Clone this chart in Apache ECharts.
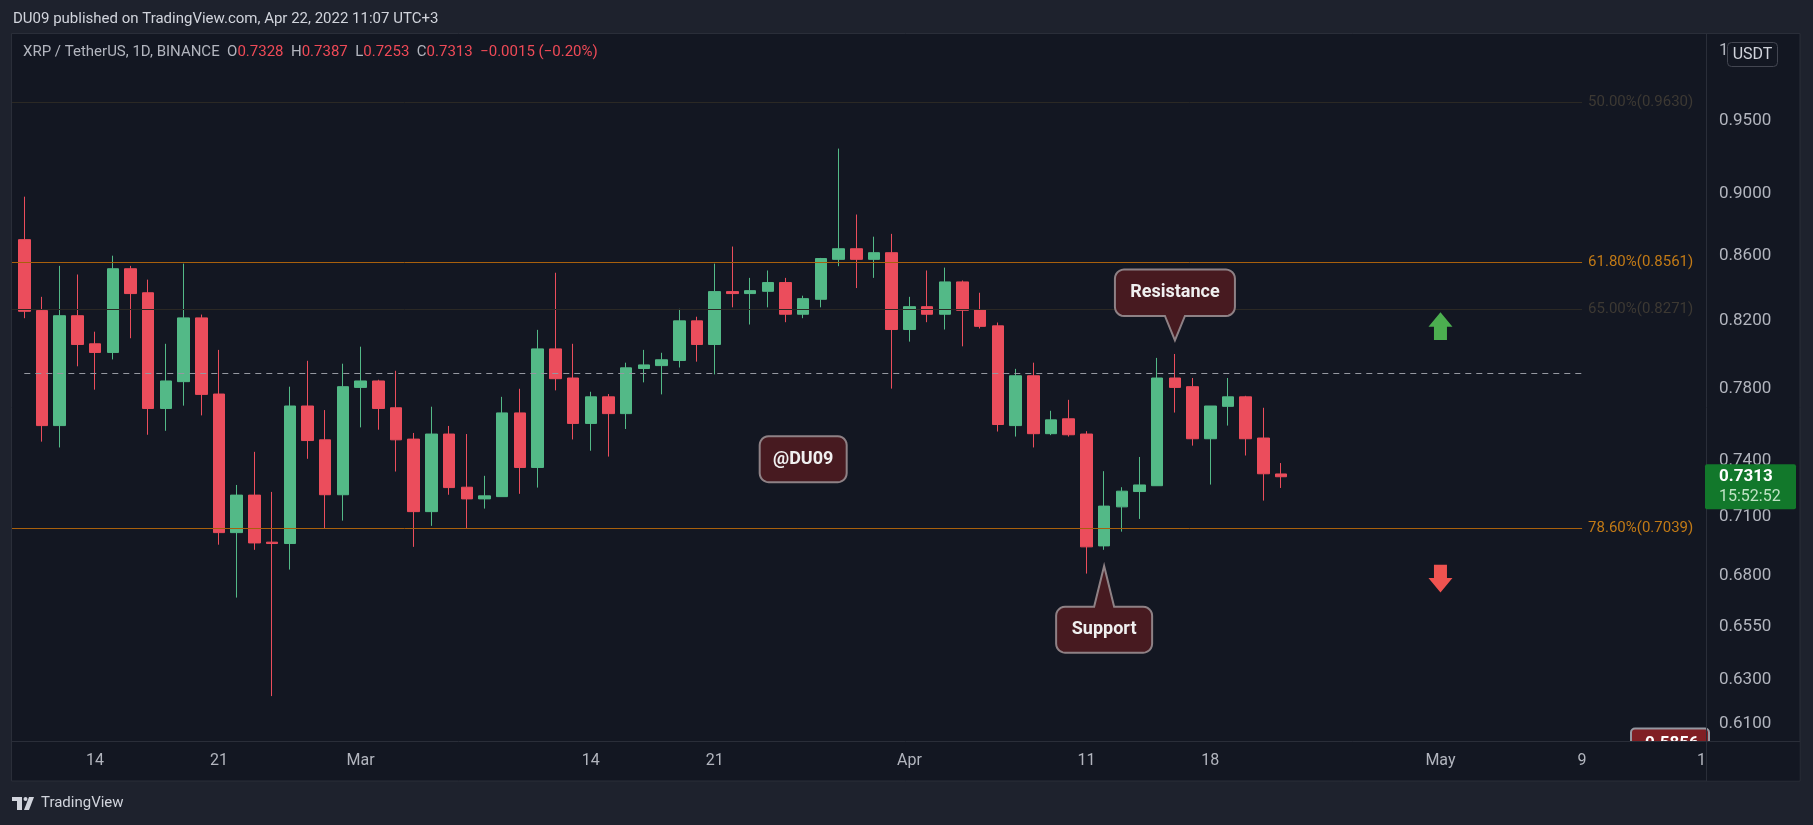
<!DOCTYPE html>
<html>
<head>
<meta charset="utf-8">
<title>XRP / TetherUS, 1D, BINANCE</title>
<script src="https://cdn.jsdelivr.net/npm/echarts@6.0.0/dist/echarts.min.js"></script>
<style>
  html, body { margin: 0; padding: 0; background: #1e222d; }
  #main { width: 1813px; height: 825px; }
</style>
</head>
<body>
<div id="main"></div>
<script>
// daily candles, 2022
const dates = [
  '02-10', '02-11', '02-12', '02-13', '02-14', '02-15', '02-16', '02-17', '02-18', '02-19',
  '02-20', '02-21', '02-22', '02-23', '02-24', '02-25', '02-26', '02-27', '02-28',
  '03-01', '03-02', '03-03', '03-04', '03-05', '03-06', '03-07', '03-08', '03-09', '03-10',
  '03-11', '03-12', '03-13', '03-14', '03-15', '03-16', '03-17', '03-18', '03-19', '03-20',
  '03-21', '03-22', '03-23', '03-24', '03-25', '03-26', '03-27', '03-28', '03-29', '03-30', '03-31',
  '04-01', '04-02', '04-03', '04-04', '04-05', '04-06', '04-07', '04-08', '04-09', '04-10',
  '04-11', '04-12', '04-13', '04-14', '04-15', '04-16', '04-17', '04-18', '04-19', '04-20', '04-21', '04-22'
]
const opens = [
  0.8704, 0.8262, 0.7593, 0.8231, 0.8063, 0.8012, 0.8520, 0.8371, 0.7689, 0.7842,
  0.8218, 0.7771, 0.7019, 0.7215, 0.6970, 0.6963, 0.7703, 0.7514, 0.7217,
  0.7809, 0.7846, 0.7693, 0.7518, 0.7128, 0.7546, 0.7257, 0.7195, 0.7207, 0.7664,
  0.7363, 0.8033, 0.7863, 0.7605, 0.7755, 0.7660, 0.7918, 0.7935, 0.7965, 0.8200,
  0.8059, 0.8378, 0.8366, 0.8380, 0.8434, 0.8240, 0.8331, 0.8579, 0.8646, 0.8579, 0.8621,
  0.8148, 0.8286, 0.8240, 0.8438, 0.8266, 0.8170, 0.7593, 0.7876, 0.7548, 0.7631,
  0.7546, 0.6951, 0.7153, 0.7234, 0.7265, 0.7863, 0.7813, 0.7520, 0.7701, 0.7755, 0.7524, 0.7328
]
const closes = [
  0.8258, 0.7593, 0.8231, 0.8059, 0.8012, 0.8520, 0.8366, 0.7689, 0.7846, 0.8218,
  0.7769, 0.7019, 0.7215, 0.6966, 0.6963, 0.7703, 0.7510, 0.7217, 0.7813,
  0.7846, 0.7689, 0.7514, 0.7128, 0.7546, 0.7255, 0.7195, 0.7211, 0.7664, 0.7363,
  0.8033, 0.7859, 0.7605, 0.7755, 0.7660, 0.7922, 0.7939, 0.7969, 0.8200, 0.8059,
  0.8378, 0.8366, 0.8384, 0.8434, 0.8240, 0.8335, 0.8584, 0.8646, 0.8579, 0.8621, 0.8148,
  0.8286, 0.8240, 0.8438, 0.8264, 0.8167, 0.7599, 0.7876, 0.7548, 0.7625, 0.7542,
  0.6946, 0.7157, 0.7236, 0.7269, 0.7863, 0.7809, 0.7520, 0.7703, 0.7755, 0.7520, 0.7329, 0.7313
]
const lows = [
  0.8216, 0.7504, 0.7472, 0.7931, 0.7796, 0.7971, 0.8096, 0.7542, 0.7564, 0.7705,
  0.7650, 0.6957, 0.6692, 0.6931, 0.6225, 0.6831, 0.7410, 0.7041, 0.7081,
  0.7583, 0.7570, 0.7341, 0.6946, 0.7054, 0.7217, 0.7041, 0.7144, 0.7207, 0.7222,
  0.7255, 0.7792, 0.7516, 0.7454, 0.7422, 0.7574, 0.7838, 0.7769, 0.7924, 0.7958,
  0.7884, 0.8282, 0.8178, 0.8282, 0.8192, 0.8216, 0.8282, 0.8536, 0.8400, 0.8463, 0.7802,
  0.8076, 0.8192, 0.8148, 0.8048, 0.8154, 0.7560, 0.7532, 0.7472, 0.7540, 0.7532,
  0.6811, 0.6931, 0.7024, 0.7090, 0.7265, 0.7666, 0.7482, 0.7271, 0.7593, 0.7428, 0.7186, 0.7253
]
const highs = [
  0.8983, 0.8346, 0.8538, 0.8484, 0.8135, 0.8602, 0.8538, 0.8452, 0.8063, 0.8552,
  0.8238, 0.8027, 0.7269, 0.7448, 0.7232, 0.7813, 0.7963, 0.7680, 0.7946,
  0.8046, 0.7853, 0.7905, 0.7552, 0.7699, 0.7591, 0.7546, 0.7318, 0.7755, 0.7801,
  0.8146, 0.8495, 0.8063, 0.7784, 0.7771, 0.7952, 0.8027, 0.8010, 0.8273, 0.8225,
  0.8552, 0.8660, 0.8463, 0.8509, 0.8463, 0.8353, 0.8588, 0.9306, 0.8866, 0.8723, 0.8741,
  0.8346, 0.8509, 0.8527, 0.8447, 0.8371, 0.8190, 0.7916, 0.7952, 0.7676, 0.7738,
  0.7562, 0.7343, 0.7257, 0.7420, 0.7980, 0.8003, 0.7863, 0.7703, 0.7863, 0.7761, 0.7693, 0.7387
]

// axis ticks
const yTicks = [1.0, 0.95, 0.90, 0.86, 0.82, 0.78, 0.74, 0.71, 0.68, 0.655, 0.63, 0.61]
const xTicks = ['02-14', '02-21', '03-01', '03-14', '03-21', '04-01', '04-11', '04-18', '05-01', '05-09', '05-16']

// fib retracement levels + horizontal dashed level
const fibPct = ['50.00%', '61.80%', '65.00%', '78.60%']
const fibPrice = [0.9630, 0.8561, 0.8271, 0.7039]
const fibStrong = [false, true, false, true]
const dashedLevel = 0.7890

const lastPrice = 0.7313

const DAY = 86400000
const ts = s => Date.parse('2022-' + s + 'T00:00:00Z')
// x is counted in days from the first candle
const day = s => Math.round((ts(s) - ts(dates[0])) / DAY)
const MONTHS = ['Jan', 'Feb', 'Mar', 'Apr', 'May', 'Jun', 'Jul', 'Aug', 'Sep', 'Oct', 'Nov', 'Dec']
const FONT = 'Roboto, "Noto Sans", sans-serif'
const upColor = '#53b987'
const downColor = '#eb4d5c'
const textColor = '#b2b5be'

const xMin = -0.694
const xMax = day('05-16')
const lineEnd = day('05-09')

const candles = dates.map((d, i) => [day(d), opens[i], closes[i], lows[i], highs[i]])

const fibLines = fibPrice.map((p, i) => [
  {
    coord: [xMin, p],
    lineStyle: { color: fibStrong[i] ? '#a8600d' : '#2b2925', width: 1, type: 'solid' },
    label: {
      show: true,
      position: 'end',
      distance: 6,
      formatter: fibPct[i] + '(' + p.toFixed(4) + ')',
      color: fibStrong[i] ? '#c27a16' : '#3d3933',
      fontSize: 15,
      fontFamily: FONT
    }
  },
  { coord: [lineEnd, p] }
])

const chart = echarts.init(document.getElementById('main'))

chart.setOption({
  animation: false,
  backgroundColor: '#1e222d',
  title: [
    {
      text: 'DU09 published on TradingView.com, Apr 22, 2022 11:07 UTC+3',
      left: 13,
      top: 12,
      padding: 0,
      textStyle: { color: '#d1d4dc', fontSize: 15, fontWeight: 'normal', fontFamily: FONT }
    },
    {
      text: '{g|XRP / TetherUS, 1D, BINANCE}  {g|O}{r|0.7328}  {g|H}{r|0.7387}  {g|L}{r|0.7253}  {g|C}{r|0.7313}  {r|\u22120.0015 (\u22120.20%)}',
      left: 23,
      top: 45,
      padding: 0,
      textStyle: {
        color: textColor, fontSize: 15, fontWeight: 'normal', fontFamily: FONT,
        rich: {
          g: { color: textColor, fontSize: 15, fontFamily: FONT },
          r: { color: '#ef4a57', fontSize: 15, fontFamily: FONT }
        }
      }
    }
  ],
  grid: { left: 12, right: 107, top: 34, bottom: 84, outerBoundsMode: 'none' },
  xAxis: {
    type: 'value',
    min: xMin,
    max: xMax,
    axisLine: { show: false },
    axisTick: { show: false },
    splitLine: { show: false },
    axisLabel: {
      customValues: xTicks.map(day),
      formatter: v => {
        const d = new Date(ts(dates[0]) + Math.round(v) * DAY)
        return d.getUTCDate() === 1 ? MONTHS[d.getUTCMonth()] : String(d.getUTCDate())
      },
      color: textColor,
      fontSize: 16,
      fontFamily: FONT,
      margin: 12
    }
  },
  yAxis: {
    type: 'log',
    logBase: 10,
    position: 'right',
    min: 0.6023,
    max: 1.0123,
    axisLine: { show: false },
    axisTick: { show: false },
    splitLine: { show: false },
    axisLabel: {
      customValues: yTicks,
      formatter: v => Number(v).toFixed(4),
      color: textColor,
      fontSize: 17,
      fontFamily: FONT,
      margin: 13,
      align: 'left'
    }
  },
  series: [{
    type: 'candlestick',
    data: candles,
    encode: { x: 0, y: [1, 2, 3, 4] },
    barWidth: 12,
    itemStyle: {
      color: upColor,
      color0: downColor,
      borderColor: upColor,
      borderColor0: downColor,
      borderWidth: 1
    },
    markLine: {
      silent: true,
      animation: false,
      symbol: ['none', 'none'],
      lineStyle: { type: 'solid', width: 1 },
      data: fibLines.concat([[
        {
          coord: [0, dashedLevel],
          lineStyle: { color: '#9598a1', width: 1, type: [6, 5] },
          label: { show: false }
        },
        { coord: [lineEnd, dashedLevel] }
      ]])
    }
  }]
})

// ---- drawings and chrome, anchored through the chart's own scales ----
const px = (d, v) => chart.convertToPixel({ gridIndex: 0 }, [day(d), v])

function callout(x0, y0, w, h, r, tip) {
  const x1 = x0 + w, y1 = y0 + h
  const pts = []
  const arc = (cx, cy, a0) => {
    for (let k = 0; k <= 6; k++) {
      const a = a0 + k * Math.PI / 12
      pts.push([cx + r * Math.cos(a), cy + r * Math.sin(a)])
    }
  }
  arc(x0 + r, y0 + r, Math.PI)
  if (tip && tip[1] < y0) pts.push([tip[0] - 10, y0], tip, [tip[0] + 10, y0])
  arc(x1 - r, y0 + r, 1.5 * Math.PI)
  arc(x1 - r, y1 - r, 0)
  if (tip && tip[1] > y1) pts.push([tip[0] + 10, y1], tip, [tip[0] - 10, y1])
  arc(x0 + r, y1 - r, 0.5 * Math.PI)
  return pts
}

function calloutEls(pts, cx, cy, label) {
  return [
    {
      type: 'polygon', z: 100,
      shape: { points: pts },
      style: { fill: '#471a20', stroke: '#8e8185', lineWidth: 2 }
    },
    {
      type: 'text', z: 101,
      style: {
        text: label, x: cx, y: cy,
        fill: '#f0f0f0', font: 'bold 18px ' + FONT,
        align: 'center', verticalAlign: 'middle',
        textAlign: 'center', textVerticalAlign: 'middle'
      }
    }
  ]
}

function arrow(tip, dir, color) {
  const [x, y] = tip
  const s = dir === 'up' ? 1 : -1
  return {
    type: 'polygon', z: 100,
    shape: {
      points: [
        [x, y], [x + 12, y + s * 14.4], [x + 6.5, y + s * 14.4], [x + 6.5, y + s * 27.7],
        [x - 6.5, y + s * 27.7], [x - 6.5, y + s * 14.4], [x - 12, y + s * 14.4]
      ]
    },
    style: { fill: color }
  }
}

const resTip = px('04-16', 0.8084)
const supTip = px('04-12', 0.6849)
const tagCenter = px('03-26', 0.7408)
const upTip = px('05-01', 0.8252)
const downTip = px('05-01', 0.6717)
const lastY = px('04-22', lastPrice)[1]

const elements = [
  // chart panel
  {
    type: 'rect', z: -10,
    shape: { x: 11.5, y: 33.5, width: 1788.5, height: 747.5 },
    style: { fill: '#131722', stroke: '#2a2e39', lineWidth: 1 }
  },
  // red price tag cut by the time scale
  {
    type: 'rect', z: -6,
    shape: { x: 1631, y: 728.5, width: 78, height: 24, r: 4 },
    style: { fill: '#801f24', stroke: '#9598a1', lineWidth: 2 }
  },
  {
    type: 'text', z: -5,
    style: { text: '0.5856', x: 1645, y: 744, fill: '#ffffff', font: 'bold 17px ' + FONT, verticalAlign: 'middle', textVerticalAlign: 'middle' }
  },
  {
    type: 'rect', z: -4,
    shape: { x: 1625, y: 742, width: 81, height: 38 },
    style: { fill: '#131722' }
  },
  // hide label overflow into the price scale
  {
    type: 'rect', z: 90,
    shape: { x: 1707, y: 742, width: 92.5, height: 38.5 },
    style: { fill: '#131722' }
  },
  // scale borders
  {
    type: 'line', z: 100,
    shape: { x1: 11.5, y1: 741.5, x2: 1800, y2: 741.5 },
    style: { stroke: '#2a2e39', lineWidth: 1 }
  },
  {
    type: 'line', z: 100,
    shape: { x1: 1706.5, y1: 34, x2: 1706.5, y2: 781 },
    style: { stroke: '#2a2e39', lineWidth: 1 }
  },
  // USDT badge
  {
    type: 'rect', z: 100,
    shape: { x: 1727.5, y: 42.5, width: 50, height: 24, r: 4 },
    style: { fill: '#131722', stroke: '#434651', lineWidth: 1 }
  },
  {
    type: 'text', z: 101,
    style: { text: 'USDT', x: 1752.5, y: 55, fill: '#d1d4dc', font: '16px ' + FONT, align: 'center', verticalAlign: 'middle', textAlign: 'center', textVerticalAlign: 'middle' }
  },
  // last price box
  {
    type: 'rect', z: 100,
    shape: { x: 1705, y: lastY - 12.5, width: 91, height: 45, r: 2 },
    style: { fill: '#12782b' }
  },
  {
    type: 'text', z: 101,
    style: { text: lastPrice.toFixed(4), x: 1719, y: lastY, fill: '#ffffff', font: 'bold 17px ' + FONT, verticalAlign: 'middle', textVerticalAlign: 'middle' }
  },
  {
    type: 'text', z: 101,
    style: { text: '15:52:52', x: 1719, y: lastY + 20, fill: '#bfe3c4', font: '16px ' + FONT, verticalAlign: 'middle', textVerticalAlign: 'middle' }
  },
  arrow(upTip, 'up', '#4caf50'),
  arrow(downTip, 'down', '#ef5350'),
  // TradingView footer
  {
    type: 'polygon', z: 100,
    shape: { points: [[12, 797], [22, 797], [22, 810], [17, 810], [17, 801], [12, 801]] },
    style: { fill: '#d1d4dc' }
  },
  {
    type: 'circle', z: 100,
    shape: { cx: 25.5, cy: 799, r: 2 },
    style: { fill: '#d1d4dc' }
  },
  {
    type: 'polygon', z: 100,
    shape: { points: [[29, 797], [34, 797], [29, 810], [24, 810]] },
    style: { fill: '#d1d4dc' }
  },
  {
    type: 'text', z: 100,
    style: { text: 'TradingView', x: 41, y: 803.5, fill: '#d1d4dc', font: '15px ' + FONT, verticalAlign: 'middle', textVerticalAlign: 'middle' }
  }
]
  .concat(calloutEls(callout(resTip[0] - 60, resTip[1] - 70.7, 120, 46.4, 9, resTip), resTip[0], resTip[1] - 47.5, 'Resistance'))
  .concat(calloutEls(callout(supTip[0] - 48, supTip[1] + 40.7, 96, 46, 9, supTip), supTip[0], supTip[1] + 63.7, 'Support'))
  .concat(calloutEls(callout(tagCenter[0] - 43.5, tagCenter[1] - 23, 87, 46, 9, null), tagCenter[0], tagCenter[1], '@DU09'))

chart.setOption({ graphic: { elements: elements } })
</script>
</body>
</html>
